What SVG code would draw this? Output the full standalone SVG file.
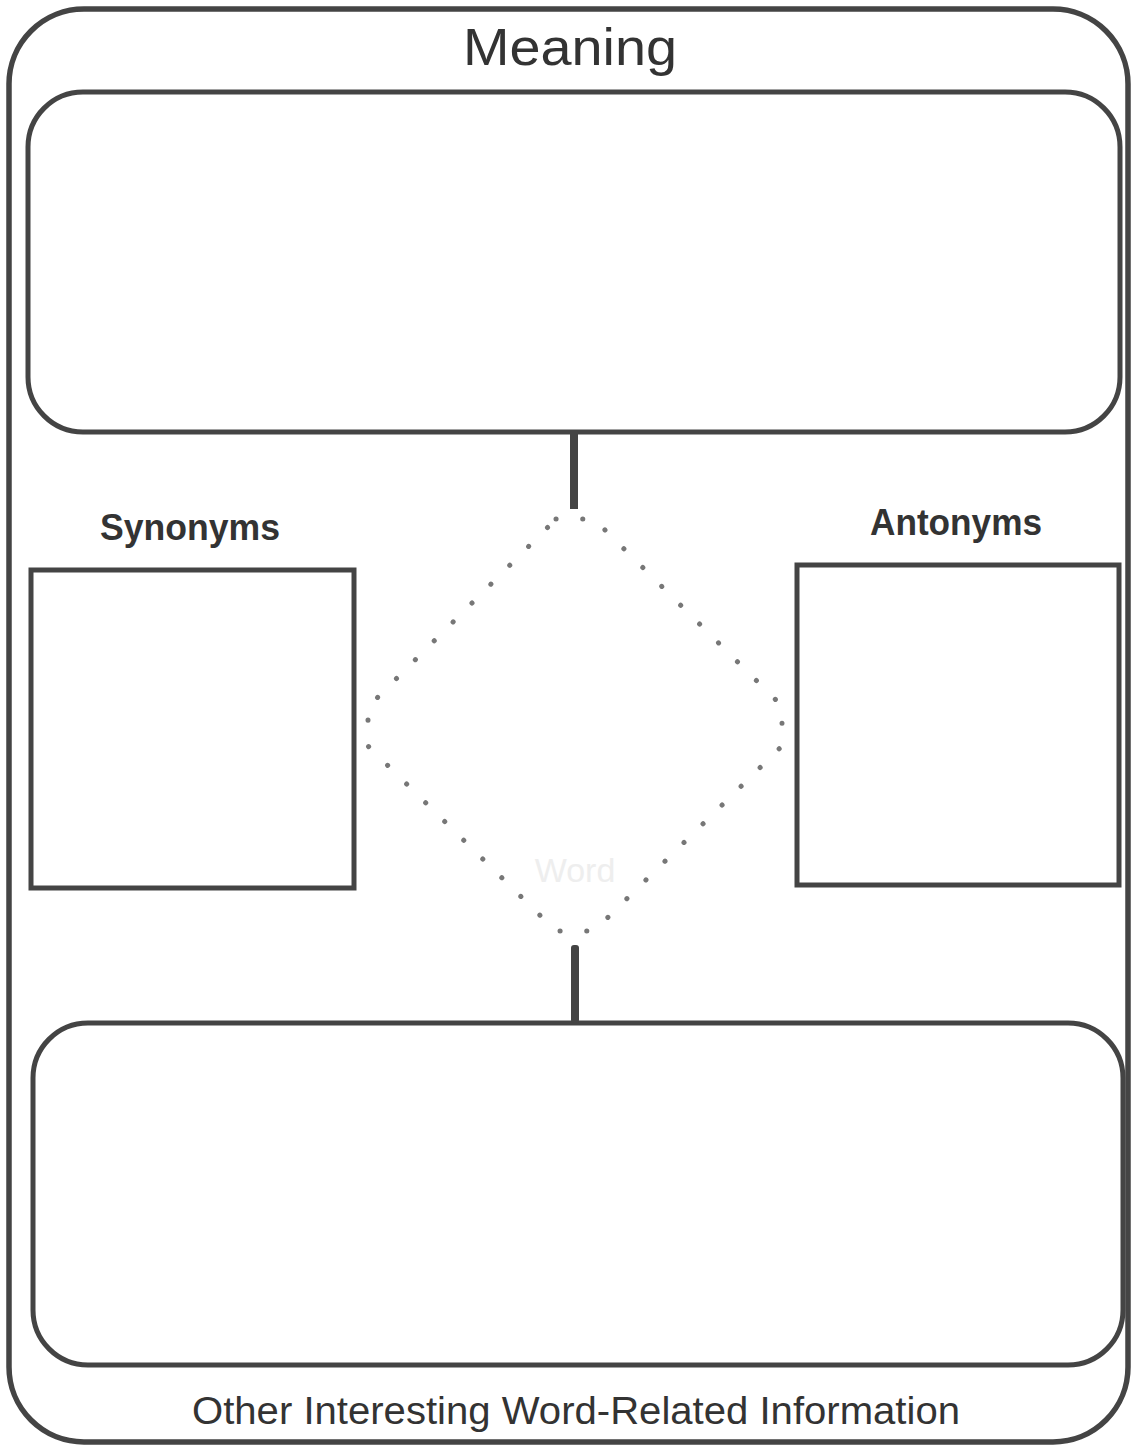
<svg xmlns="http://www.w3.org/2000/svg" width="1131" height="1449" viewBox="0 0 1131 1449">
<style>
.frame{fill:none;stroke:#444;stroke-width:5.5}
.box{fill:none;stroke:#444;stroke-width:5}
.lbl{font-family:"Liberation Sans",Arial,sans-serif;fill:#333}
.dots{fill:none;stroke:#777;stroke-width:5;stroke-linecap:round;stroke-dasharray:0.1 26.6}
.bar{fill:#444}
</style>
<rect width="1131" height="1449" fill="#fff"/>
<g id="frame">
<rect class="frame" x="9" y="9" width="1119" height="1433" rx="75"/>
</g>
<g id="meaning">
<rect class="box" x="28" y="92" width="1092" height="340" rx="55"/>
<text class="lbl" x="570" y="65" font-size="52" text-anchor="middle" textLength="214" lengthAdjust="spacingAndGlyphs">Meaning</text>
</g>
<g id="synonyms">
<rect class="box" x="31" y="570" width="323" height="318"/>
<text class="lbl" x="190" y="540" font-size="37" font-weight="bold" text-anchor="middle" textLength="180" lengthAdjust="spacingAndGlyphs">Synonyms</text>
</g>
<g id="antonyms">
<rect class="box" x="797" y="565" width="322" height="320"/>
<text class="lbl" x="956" y="535" font-size="37" font-weight="bold" text-anchor="middle" textLength="172" lengthAdjust="spacingAndGlyphs">Antonyms</text>
</g>
<g id="word">
<polygon class="dots" points="556,519 594,519 782,706 782,746 594,931 556,931 368,746 368,707"/>
<text x="575" y="882" font-size="34" text-anchor="middle" font-family="Liberation Sans,Arial,sans-serif" fill="#eeeeee">Word</text>
</g>
<g id="other">
<rect class="box" x="33" y="1023" width="1090" height="342" rx="55"/>
<text class="lbl" x="576" y="1424" font-size="38" text-anchor="middle" textLength="768" lengthAdjust="spacingAndGlyphs">Other Interesting Word-Related Information</text>
</g>
<g id="connectors">
<rect class="bar" x="570" y="432" width="8" height="77"/>
<rect class="bar" x="571" y="945" width="8" height="78" rx="3"/>
</g>
</svg>
